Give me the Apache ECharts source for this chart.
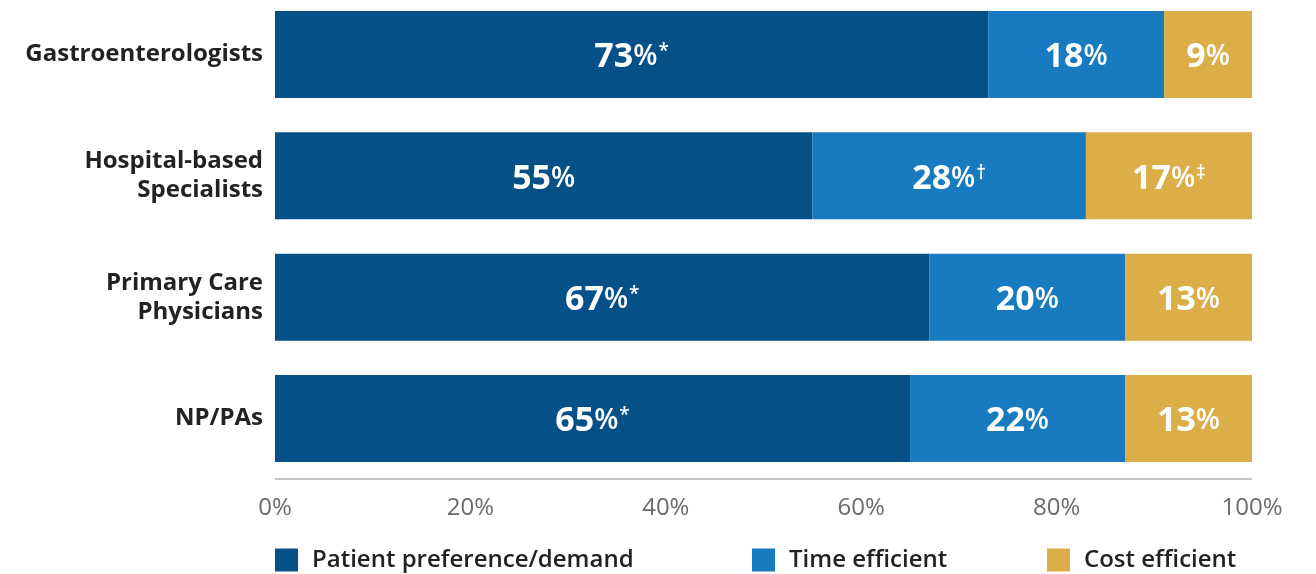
<!DOCTYPE html>
<html>
<head>
<meta charset="utf-8">
<script src="https://cdn.jsdelivr.net/npm/echarts@6/dist/echarts.min.js"></script>
<style>
  html, body { margin: 0; padding: 0; background: #ffffff; }
  #chart { width: 1316px; height: 574px; }
</style>
</head>
<body>
<div id="chart"></div>
<script>
// Groups of clinicians (top to bottom)
const categories = ['Gastroenterologists', 'Hospital-based\nSpecialists', 'Primary Care\nPhysicians', 'NP/PAs'];

// Share of respondents by reason (%)
const patientPreference = [73, 55, 67, 65];
const timeEfficient = [18, 28, 20, 22];
const costEfficient = [9, 17, 13, 13];

// Footnote markers printed after each value
const patientMarks = ['*', '', '*', '*'];
const timeMarks = ['', '\u2020', '', ''];
const costMarks = ['', '\u2021', '', ''];

const seriesNames = ['Patient preference/demand', 'Time efficient', 'Cost efficient'];
const colors = ['#045087', '#187bc0', '#dbae47'];
const xTicks = [0, 20, 40, 60, 80, 100];

const FONT = '"Open Sans", "Noto Sans", sans-serif';

function makeLabel(marks) {
  return {
    show: true,
    position: 'inside',
    offset: [0, 3],
    color: '#ffffff',
    fontFamily: FONT,
    formatter: p => '{n|' + p.value + '}{p|%}' + (marks[p.dataIndex] ? '{s|' + marks[p.dataIndex] + '}' : ''),
    rich: {
      n: { fontFamily: FONT, fontSize: 34, fontWeight: 'bold', color: '#fff', lineHeight: 40 },
      p: { fontFamily: FONT, fontSize: 28, fontWeight: 600, color: '#fff', lineHeight: 40 },
      s: { fontFamily: FONT, fontSize: 19, fontWeight: 600, color: '#fff', lineHeight: 40, padding: [0, 0, 11, 1] }
    }
  };
}

const values = [patientPreference, timeEfficient, costEfficient];
const marks = [patientMarks, timeMarks, costMarks];

const chart = echarts.init(document.getElementById('chart'));
chart.setOption({
  animation: false,
  // category centres sit on the grid's top and bottom edges (boundaryGap off)
  grid: { left: 275, right: 64, top: 54.5, bottom: 155.5, containLabel: false },
  xAxis: {
    type: 'value',
    min: 0,
    max: 100,
    interval: 20,
    axisLine: { show: false },
    axisTick: { show: false },
    splitLine: { show: false },
    axisLabel: {
      formatter: v => xTicks.includes(v) ? v + '%' : '',
      fontFamily: FONT,
      fontSize: 24,
      color: '#6b6b6b',
      margin: 78
    }
  },
  yAxis: {
    type: 'category',
    inverse: true,
    boundaryGap: false,
    data: categories,
    axisLine: { show: false },
    axisTick: { show: false },
    splitLine: { show: false },
    axisLabel: {
      fontFamily: FONT,
      fontSize: 24,
      fontWeight: 'bold',
      color: '#222222',
      lineHeight: 29,
      align: 'right',
      margin: 12
    }
  },
  legend: [0, 1, 2].map((i) => ({
    data: [seriesNames[i]],
    left: [275, 752, 1047][i],
    top: 548,
    padding: 0,
    itemWidth: 23,
    itemHeight: 23,
    itemGap: 0,
    icon: 'rect',
    textStyle: { fontFamily: FONT, fontSize: 24, fontWeight: 600, color: '#222222', padding: [0, 0, 0, 9] }
  })),
  graphic: [{
    type: 'line',
    shape: { x1: 275, y1: 479, x2: 1252, y2: 479 },
    style: { stroke: '#c4c4c4', lineWidth: 2 }
  }],
  series: values.map((arr, i) => ({
    name: seriesNames[i],
    type: 'bar',
    stack: 'total',
    data: arr,
    barWidth: 87,
    clip: false,
    itemStyle: { color: colors[i] },
    label: makeLabel(marks[i])
  }))
});
</script>
</body>
</html>
